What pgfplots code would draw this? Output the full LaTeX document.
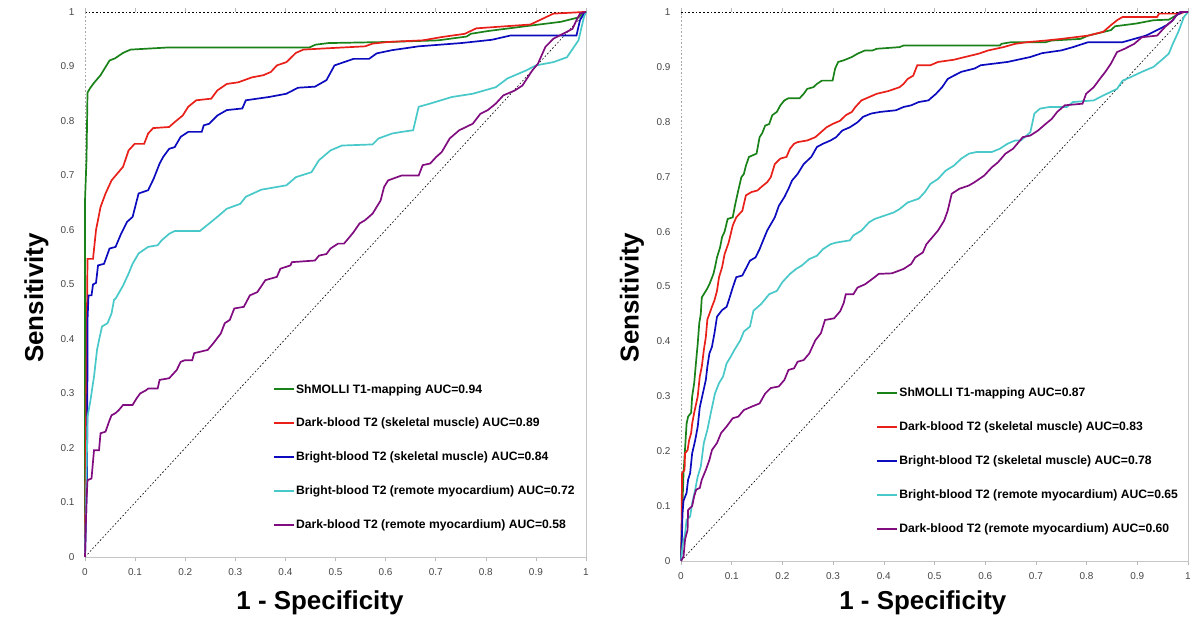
\documentclass[border=0pt]{standalone}
\usepackage{fontspec}
\setmainfont{Liberation Sans}
\usepackage{pgfplots}
\pgfplotsset{compat=1.18}
\definecolor{cGreen}{RGB}{25,130,25}
\definecolor{cRed}{RGB}{232,32,25}
\definecolor{cBlue}{RGB}{12,12,190}
\definecolor{cCyan}{RGB}{72,200,200}
\definecolor{cPurple}{RGB}{128,12,128}
\pgfplotsset{
  rocaxis/.style={
    scale only axis, clip=false,
    xmin=0, xmax=1, ymin=0, ymax=1,
    xtick={0,0.1,0.2,0.3,0.4,0.5,0.6,0.7,0.8,0.9,1},
    ytick={0,0.1,0.2,0.3,0.4,0.5,0.6,0.7,0.8,0.9,1},
    axis line style={draw=none},
    /pgf/number format/assume math mode=true,
    tick label style={font=\fontsize{10}{12}\selectfont, text=black!72},
    tick align=outside, major tick length=4bp,
    xtick style={gray!55, line width=0.6bp},
    ytick style={draw=none},
    xticklabel style={yshift=-4bp},
    yticklabel style={xshift=-3bp},
    label style={font=\fontsize{26}{30}\selectfont\bfseries},
    legend style={draw=none, fill=none, inner sep=0pt, row sep=21.5bp,
      font=\fontsize{12.2}{14}\selectfont\bfseries,
      nodes={inner sep=1bp}},
    legend cell align=left,
    legend image code/.code={\draw[#1, line width=2bp] (0bp,0bp) -- (20bp,0bp);},
    every axis plot/.append style={line width=1.7bp},
  }
}
\begin{document}
\begin{tikzpicture}
\path[use as bounding box] (0,0) rectangle (1200bp,638bp);
% ---------------- left panel ----------------
\begin{axis}[rocaxis, at={(85bp,81bp)}, anchor=south west,
  width=501bp, height=545bp,
  xlabel={1 - Specificity}, ylabel={Sensitivity},
  xlabel style={at={(axis description cs:0.469,-0.084)}, anchor=center},
  ylabel style={at={(axis description cs:-0.097,0.475)}, anchor=center},
  legend style={at={(axis cs:0.375,0.319)}, anchor=north west}]
\addplot[forget plot, black, dotted, line width=0.6bp] coordinates {(0,0)(1,1)};
\addplot[forget plot, gray!45, line width=0.7bp] coordinates {(0,0)(1,0)(1,1)};
\addplot[forget plot, black, dotted, line width=0.6bp] coordinates {(0,1)(1,1)};
\addplot[forget plot, gray!70, dotted, line width=0.6bp] coordinates {(0,0)(0,1)};
\addplot[cGreen] coordinates {(0,0)(0,0.654)(0.003,0.73)(0.005,0.852)(0.01,0.86)(0.018,0.87)(0.031,0.884)(0.049,0.911)(0.06,0.915)(0.076,0.925)(0.091,0.931)(0.168,0.935)(0.448,0.935)(0.46,0.94)(0.486,0.943)(0.605,0.945)(0.705,0.948)(0.762,0.955)(0.77,0.96)(0.804,0.965)(0.889,0.975)(0.95,0.982)(0.985,0.99)(0.996,1)(1,1)};
\addlegendentry{ShMOLLI T1-mapping AUC=0.94}
\addplot[cRed] coordinates {(0,0)(0.003,0.35)(0.005,0.547)(0.016,0.547)(0.022,0.6)(0.031,0.642)(0.041,0.667)(0.053,0.691)(0.064,0.703)(0.076,0.716)(0.087,0.746)(0.099,0.758)(0.118,0.758)(0.126,0.777)(0.136,0.787)(0.168,0.789)(0.179,0.798)(0.195,0.81)(0.206,0.826)(0.222,0.838)(0.252,0.841)(0.264,0.856)(0.283,0.868)(0.306,0.871)(0.333,0.88)(0.356,0.884)(0.371,0.89)(0.383,0.902)(0.402,0.908)(0.421,0.925)(0.436,0.931)(0.475,0.933)(0.559,0.937)(0.574,0.942)(0.605,0.945)(0.674,0.948)(0.712,0.954)(0.758,0.96)(0.781,0.97)(0.827,0.973)(0.889,0.977)(0.935,0.997)(0.996,1)(1,1)};
\addlegendentry{Dark-blood T2 (skeletal muscle) AUC=0.89}
\addplot[cBlue] coordinates {(0,0)(0.004,0.14)(0.005,0.37)(0.005,0.434)(0.007,0.48)(0.013,0.48)(0.016,0.5)(0.022,0.503)(0.026,0.535)(0.038,0.538)(0.049,0.566)(0.061,0.569)(0.072,0.593)(0.084,0.615)(0.095,0.624)(0.107,0.667)(0.126,0.673)(0.137,0.694)(0.149,0.722)(0.156,0.734)(0.168,0.749)(0.179,0.752)(0.191,0.771)(0.206,0.78)(0.233,0.78)(0.237,0.792)(0.248,0.795)(0.264,0.81)(0.283,0.82)(0.314,0.823)(0.321,0.838)(0.344,0.841)(0.367,0.844)(0.402,0.85)(0.425,0.861)(0.459,0.863)(0.482,0.875)(0.498,0.902)(0.517,0.908)(0.536,0.914)(0.567,0.914)(0.582,0.924)(0.613,0.93)(0.666,0.937)(0.751,0.943)(0.812,0.949)(0.85,0.957)(0.981,0.957)(0.988,0.985)(0.996,0.997)(1,1)};
\addlegendentry{Bright-blood T2 (skeletal muscle) AUC=0.84}
\addplot[cCyan] coordinates {(0,0)(0.003,0.15)(0.005,0.257)(0.011,0.288)(0.015,0.313)(0.018,0.331)(0.024,0.38)(0.028,0.398)(0.034,0.423)(0.045,0.429)(0.053,0.447)(0.058,0.472)(0.061,0.474)(0.076,0.498)(0.087,0.52)(0.095,0.538)(0.107,0.557)(0.126,0.569)(0.145,0.572)(0.153,0.581)(0.168,0.593)(0.179,0.598)(0.229,0.598)(0.248,0.612)(0.264,0.624)(0.283,0.639)(0.31,0.648)(0.321,0.661)(0.352,0.674)(0.402,0.682)(0.421,0.697)(0.452,0.706)(0.467,0.728)(0.49,0.746)(0.513,0.755)(0.574,0.757)(0.586,0.768)(0.613,0.777)(0.632,0.78)(0.655,0.783)(0.666,0.826)(0.689,0.832)(0.732,0.844)(0.774,0.85)(0.82,0.862)(0.843,0.878)(0.881,0.893)(0.9,0.902)(0.935,0.908)(0.962,0.917)(0.985,0.948)(0.996,0.991)(1,1)};
\addlegendentry{Bright-blood T2 (remote myocardium) AUC=0.72}
\addplot[cPurple] coordinates {(0,0)(0.003,0.105)(0.005,0.141)(0.013,0.144)(0.018,0.196)(0.028,0.196)(0.031,0.227)(0.041,0.23)(0.049,0.251)(0.053,0.26)(0.061,0.264)(0.068,0.27)(0.076,0.279)(0.095,0.279)(0.103,0.291)(0.11,0.3)(0.122,0.306)(0.126,0.309)(0.145,0.309)(0.149,0.325)(0.168,0.328)(0.183,0.343)(0.191,0.358)(0.199,0.361)(0.214,0.361)(0.218,0.374)(0.245,0.38)(0.256,0.392)(0.271,0.41)(0.279,0.429)(0.289,0.435)(0.298,0.456)(0.317,0.459)(0.329,0.48)(0.344,0.486)(0.36,0.508)(0.383,0.514)(0.39,0.529)(0.41,0.535)(0.413,0.541)(0.459,0.544)(0.467,0.553)(0.482,0.556)(0.49,0.566)(0.505,0.575)(0.517,0.575)(0.528,0.587)(0.536,0.596)(0.548,0.612)(0.559,0.618)(0.574,0.63)(0.59,0.654)(0.597,0.679)(0.605,0.691)(0.632,0.7)(0.666,0.7)(0.674,0.719)(0.689,0.722)(0.701,0.734)(0.712,0.743)(0.728,0.768)(0.747,0.783)(0.774,0.795)(0.789,0.813)(0.804,0.82)(0.82,0.832)(0.835,0.847)(0.858,0.856)(0.873,0.865)(0.893,0.893)(0.904,0.905)(0.919,0.936)(0.935,0.951)(0.954,0.96)(0.973,0.969)(0.981,0.985)(0.988,0.997)(1,1)};
\addlegendentry{Dark-blood T2 (remote myocardium) AUC=0.58}
\end{axis}
% ---------------- right panel ----------------
\begin{axis}[rocaxis, at={(681bp,77bp)}, anchor=south west,
  width=507bp, height=549bp,
  xlabel={1 - Specificity}, ylabel={Sensitivity},
  xlabel style={at={(axis description cs:0.477,-0.077)}, anchor=center},
  ylabel style={at={(axis description cs:-0.097,0.48)}, anchor=center},
  legend style={at={(axis cs:0.385,0.317)}, anchor=north west}]
\addplot[forget plot, black, dotted, line width=0.6bp] coordinates {(0,0)(1,1)};
\addplot[forget plot, gray!45, line width=0.7bp] coordinates {(0,0)(1,0)(1,1)};
\addplot[forget plot, black, dotted, line width=0.6bp] coordinates {(0,1)(1,1)};
\addplot[forget plot, gray!70, dotted, line width=0.6bp] coordinates {(0,0)(0,1)};
\addplot[cGreen] coordinates {(0,0)(0.002,0.08)(0.005,0.16)(0.011,0.25)(0.014,0.263)(0.02,0.27)(0.022,0.3)(0.026,0.324)(0.03,0.366)(0.033,0.396)(0.036,0.433)(0.039,0.45)(0.041,0.48)(0.045,0.486)(0.051,0.495)(0.056,0.504)(0.064,0.523)(0.067,0.535)(0.071,0.553)(0.077,0.571)(0.081,0.59)(0.086,0.6)(0.092,0.623)(0.102,0.626)(0.107,0.65)(0.113,0.675)(0.119,0.699)(0.124,0.705)(0.128,0.72)(0.134,0.736)(0.149,0.742)(0.155,0.772)(0.16,0.779)(0.166,0.793)(0.174,0.796)(0.18,0.812)(0.189,0.818)(0.196,0.83)(0.204,0.839)(0.212,0.843)(0.234,0.843)(0.242,0.851)(0.249,0.86)(0.261,0.863)(0.268,0.869)(0.278,0.875)(0.299,0.875)(0.304,0.897)(0.31,0.909)(0.321,0.912)(0.337,0.918)(0.348,0.924)(0.363,0.93)(0.378,0.93)(0.386,0.933)(0.431,0.936)(0.439,0.939)(0.629,0.939)(0.632,0.942)(0.651,0.945)(0.719,0.945)(0.731,0.948)(0.788,0.951)(0.803,0.957)(0.826,0.962)(0.848,0.967)(0.856,0.974)(0.898,0.979)(0.932,0.985)(0.962,0.986)(0.977,0.994)(0.985,1)(1,1)};
\addlegendentry{ShMOLLI T1-mapping AUC=0.87}
\addplot[cRed] coordinates {(0,0)(0.001,0.05)(0.002,0.16)(0.007,0.166)(0.008,0.196)(0.013,0.202)(0.016,0.22)(0.02,0.233)(0.022,0.25)(0.026,0.27)(0.03,0.287)(0.033,0.3)(0.037,0.336)(0.041,0.354)(0.045,0.384)(0.049,0.408)(0.052,0.44)(0.056,0.45)(0.061,0.463)(0.066,0.475)(0.071,0.492)(0.075,0.517)(0.081,0.535)(0.086,0.559)(0.094,0.58)(0.102,0.611)(0.109,0.626)(0.121,0.638)(0.128,0.666)(0.139,0.672)(0.151,0.675)(0.158,0.681)(0.17,0.69)(0.177,0.699)(0.185,0.723)(0.196,0.733)(0.208,0.736)(0.215,0.751)(0.223,0.76)(0.23,0.763)(0.249,0.766)(0.265,0.772)(0.276,0.781)(0.287,0.79)(0.299,0.796)(0.314,0.802)(0.325,0.812)(0.337,0.818)(0.344,0.827)(0.356,0.839)(0.371,0.845)(0.386,0.851)(0.409,0.856)(0.431,0.863)(0.439,0.869)(0.447,0.878)(0.458,0.884)(0.466,0.903)(0.492,0.903)(0.507,0.909)(0.538,0.913)(0.56,0.918)(0.587,0.924)(0.606,0.93)(0.636,0.936)(0.659,0.942)(0.682,0.945)(0.719,0.948)(0.75,0.951)(0.803,0.957)(0.833,0.964)(0.848,0.976)(0.86,0.985)(0.871,0.991)(0.939,0.991)(0.943,0.997)(0.985,0.997)(0.992,1)(1,1)};
\addlegendentry{Dark-blood T2 (skeletal muscle) AUC=0.83}
\addplot[cBlue] coordinates {(0,0)(0.002,0.05)(0.003,0.087)(0.005,0.11)(0.011,0.124)(0.014,0.148)(0.018,0.16)(0.022,0.196)(0.028,0.22)(0.033,0.245)(0.037,0.28)(0.043,0.305)(0.049,0.33)(0.052,0.354)(0.056,0.378)(0.061,0.39)(0.066,0.415)(0.068,0.427)(0.071,0.445)(0.081,0.457)(0.09,0.463)(0.096,0.48)(0.102,0.498)(0.109,0.517)(0.121,0.52)(0.136,0.547)(0.147,0.553)(0.155,0.568)(0.162,0.584)(0.17,0.602)(0.185,0.626)(0.193,0.647)(0.204,0.663)(0.212,0.678)(0.219,0.693)(0.23,0.705)(0.242,0.723)(0.257,0.736)(0.268,0.754)(0.28,0.76)(0.295,0.766)(0.306,0.772)(0.318,0.784)(0.333,0.79)(0.348,0.799)(0.359,0.809)(0.375,0.815)(0.393,0.818)(0.424,0.821)(0.439,0.827)(0.454,0.83)(0.469,0.836)(0.488,0.839)(0.503,0.851)(0.515,0.863)(0.526,0.878)(0.538,0.884)(0.553,0.891)(0.579,0.897)(0.591,0.903)(0.644,0.909)(0.659,0.912)(0.689,0.918)(0.712,0.925)(0.75,0.93)(0.773,0.936)(0.803,0.945)(0.871,0.945)(0.894,0.951)(0.917,0.957)(0.939,0.967)(0.958,0.976)(0.97,0.985)(0.977,0.994)(0.989,1)(1,1)};
\addlegendentry{Bright-blood T2 (skeletal muscle) AUC=0.78}
\addplot[cCyan] coordinates {(0,0)(0.003,0.027)(0.008,0.05)(0.011,0.075)(0.018,0.081)(0.022,0.105)(0.028,0.13)(0.033,0.154)(0.039,0.172)(0.045,0.215)(0.052,0.239)(0.06,0.275)(0.067,0.305)(0.075,0.324)(0.083,0.336)(0.09,0.36)(0.098,0.372)(0.105,0.384)(0.117,0.402)(0.124,0.418)(0.136,0.427)(0.143,0.456)(0.158,0.468)(0.174,0.486)(0.189,0.492)(0.2,0.508)(0.215,0.523)(0.227,0.532)(0.238,0.538)(0.253,0.55)(0.268,0.556)(0.28,0.568)(0.295,0.577)(0.306,0.58)(0.333,0.584)(0.34,0.593)(0.356,0.602)(0.371,0.617)(0.382,0.623)(0.401,0.629)(0.42,0.635)(0.431,0.641)(0.447,0.653)(0.469,0.66)(0.481,0.672)(0.492,0.687)(0.507,0.696)(0.522,0.711)(0.538,0.72)(0.553,0.733)(0.568,0.742)(0.583,0.745)(0.613,0.745)(0.629,0.751)(0.644,0.76)(0.659,0.766)(0.67,0.766)(0.678,0.772)(0.689,0.781)(0.697,0.815)(0.708,0.824)(0.727,0.827)(0.761,0.827)(0.773,0.836)(0.814,0.839)(0.833,0.848)(0.86,0.86)(0.871,0.875)(0.886,0.881)(0.909,0.891)(0.932,0.9)(0.951,0.915)(0.962,0.924)(0.97,0.942)(0.981,0.964)(0.992,0.991)(1,1)};
\addlegendentry{Bright-blood T2 (remote myocardium) AUC=0.65}
\addplot[cPurple] coordinates {(0,0)(0.005,0.008)(0.008,0.039)(0.013,0.057)(0.014,0.093)(0.022,0.1)(0.026,0.118)(0.03,0.13)(0.037,0.133)(0.041,0.148)(0.049,0.166)(0.056,0.184)(0.061,0.202)(0.071,0.215)(0.079,0.233)(0.09,0.245)(0.102,0.26)(0.113,0.263)(0.124,0.275)(0.139,0.281)(0.155,0.287)(0.166,0.305)(0.177,0.315)(0.193,0.318)(0.204,0.33)(0.212,0.348)(0.223,0.351)(0.23,0.363)(0.242,0.366)(0.253,0.378)(0.265,0.402)(0.276,0.415)(0.284,0.439)(0.302,0.442)(0.314,0.455)(0.321,0.47)(0.325,0.486)(0.34,0.486)(0.348,0.498)(0.363,0.504)(0.382,0.517)(0.39,0.523)(0.416,0.524)(0.439,0.532)(0.454,0.541)(0.462,0.553)(0.477,0.562)(0.484,0.577)(0.496,0.59)(0.507,0.602)(0.519,0.62)(0.526,0.638)(0.534,0.669)(0.549,0.678)(0.568,0.684)(0.579,0.69)(0.598,0.702)(0.613,0.717)(0.625,0.726)(0.64,0.742)(0.655,0.751)(0.666,0.763)(0.674,0.772)(0.689,0.775)(0.704,0.784)(0.719,0.796)(0.731,0.805)(0.742,0.818)(0.757,0.83)(0.792,0.833)(0.799,0.851)(0.814,0.863)(0.826,0.878)(0.837,0.891)(0.848,0.906)(0.86,0.927)(0.875,0.933)(0.894,0.942)(0.909,0.954)(0.939,0.957)(0.955,0.973)(0.97,0.985)(0.977,0.994)(0.985,1)(1,1)};
\addlegendentry{Dark-blood T2 (remote myocardium) AUC=0.60}
\end{axis}
\end{tikzpicture}
\end{document}
